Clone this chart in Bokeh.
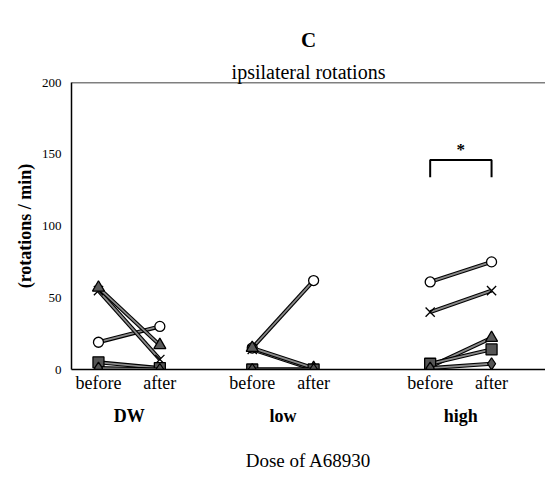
from bokeh.plotting import figure
from bokeh.models import LinearAxis, FixedTicker, Title, Span, ColumnDataSource
from bokeh.core.properties import value
from bokeh.embed import file_html
from bokeh.resources import INLINE

# ---- data ----
groups = ["DW", "low", "high"]
timepoints = ["before", "after"]
# series values per group: [before, after]
circle_vals   = {"DW": [19, 30], "low": [15, 62], "high": [61, 75]}
cross_vals    = {"DW": [55, 7],  "low": [14, 0],  "high": [40, 55]}
triangle_vals = {"DW": [57, 17], "low": [15, 1],  "high": [2, 22]}
square_vals   = {"DW": [5, 1],   "low": [0, 0],   "high": [4, 14]}
diamond_vals  = {"DW": [1, 0],   "low": [0, 0],   "high": [1, 4]}
y_ticks = [0, 50, 100, 150, 200]
sig_group = "high"
sig_level = 146
sig_leg = 134
sig_label = "*"

# ---- layout (positions) ----
group_pos = {"DW": 0.0, "low": 2.48, "high": 5.35}
step = 0.99
FONT = "Liberation Serif"

p = figure(width=545, height=478, x_range=(-0.435, 7.21), y_range=(0, 200),
           output_backend="svg", toolbar_location=None,
           min_border_left=71, min_border_right=0, min_border_top=82, min_border_bottom=109)
p.outline_line_color = None
p.grid.visible = False
p.background_fill_color = "white"
p.border_fill_color = "white"

p.add_layout(Title(text="ipsilateral rotations", align="center", text_font=FONT,
                   text_font_size="20px", text_font_style="normal", text_color="black",
                   standoff=0), "above")
p.add_layout(Title(text="C", align="center", text_font=FONT,
                   text_font_size="21px", text_font_style="bold", text_color="black",
                   standoff=13), "above")

p.add_layout(Span(location=200, dimension="width", line_color="black", line_width=1.5))

# x axis (before/after)
ticks = []
labels = {}
for g in groups:
    for i, t in enumerate(timepoints):
        x = round(group_pos[g] + i * step, 3)
        ticks.append(x)
        labels[x] = t
xa = p.xaxis[0]
xa.ticker = FixedTicker(ticks=ticks)
xa.major_label_overrides = labels
xa.major_tick_out = 0
xa.major_tick_in = 0
xa.minor_tick_out = 0
xa.minor_tick_in = 0
xa.axis_line_width = 1.5
xa.axis_line_color = "black"
xa.major_label_text_font = FONT
xa.major_label_text_font_size = "18px"
xa.major_label_text_color = "black"
xa.major_label_standoff = 3

# group axis
centers = [round(group_pos[g] + step / 2, 3) for g in groups]
ga = LinearAxis(ticker=FixedTicker(ticks=centers),
                major_label_overrides={c: g for c, g in zip(centers, groups)})
ga.axis_line_color = None
ga.major_tick_out = 0
ga.major_tick_in = 0
ga.minor_tick_out = 0
ga.minor_tick_in = 0
ga.major_label_text_font = FONT
ga.major_label_text_font_size = "18px"
ga.major_label_text_font_style = "bold"
ga.major_label_text_color = "black"
ga.major_label_standoff = 10
ga.axis_label = "Dose of A68930"
ga.axis_label_text_font = FONT
ga.axis_label_text_font_size = "19px"
ga.axis_label_text_font_style = "normal"
ga.axis_label_text_color = "black"
ga.axis_label_standoff = 21
p.add_layout(ga, "below")

ya = p.yaxis[0]
ya.ticker = FixedTicker(ticks=y_ticks)
ya.major_tick_out = 0
ya.major_tick_in = 0
ya.minor_tick_out = 0
ya.minor_tick_in = 0
ya.axis_line_width = 1.5
ya.axis_line_color = "black"
ya.major_label_text_font = FONT
ya.major_label_text_font_size = "13px"
ya.major_label_text_color = "black"
ya.major_label_standoff = 10
ya.axis_label = "(rotations / min)"
ya.axis_label_text_font = FONT
ya.axis_label_text_font_size = "18px"
ya.axis_label_text_font_style = "bold"
ya.axis_label_text_color = "black"
ya.axis_label_standoff = 4

series = [
    (circle_vals, "circle", 10, "white"),
    (cross_vals, "x", 13, None),
    (triangle_vals, "triangle", 12, "#5a5a5a"),
    (square_vals, "square", 11, "#555555"),
    (diamond_vals, "diamond", 12, "#555555"),
]

for vals, marker, size, fill in series:
    xs, ys, px, py = [], [], [], []
    for g in groups:
        x0 = group_pos[g]
        xx = [x0, x0 + step]
        xs.append(xx)
        ys.append(vals[g])
        px += xx
        py += vals[g]
    src = ColumnDataSource(dict(xs=xs, ys=ys))
    p.multi_line("xs", "ys", source=src, line_color="black", line_width=4)
    p.multi_line("xs", "ys", source=src, line_color="#8a8a8a", line_width=1.8)
    msrc = ColumnDataSource(dict(x=px, y=py))
    if fill is None:
        p.scatter("x", "y", source=msrc, marker=marker, size=size, line_color="black", line_width=1.3)
    else:
        p.scatter("x", "y", source=msrc, marker=marker, size=size, fill_color=fill,
                  line_color="black", line_width=1.3)

# significance bracket
bx0 = group_pos[sig_group]
bx1 = bx0 + step
p.line([bx0, bx0, bx1, bx1], [sig_leg, sig_level, sig_level, sig_leg], line_color="black", line_width=2)
p.text([(bx0 + bx1) / 2], [sig_level + 1], text=[sig_label], text_align="center", text_baseline="bottom",
       text_font=value(FONT), text_font_size="17px", text_font_style="bold", text_color="black")

open("out.html", "w").write(file_html(p, INLINE))
